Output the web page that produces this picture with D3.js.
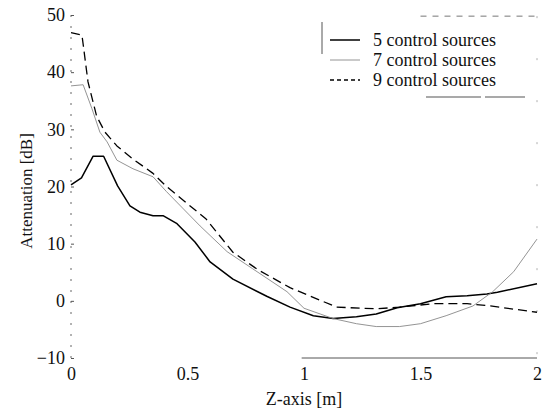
<!DOCTYPE html>
<html>
<head>
<meta charset="utf-8">
<script src="https://cdn.jsdelivr.net/npm/d3@7"></script>
<style>
  body { margin: 0; background: #fff; }
</style>
</head>
<body>
<svg id="chart" width="550" height="410"></svg>
<script>
// series: 5, 7 and 9 control sources
const z5 = [0, 0.045, 0.095, 0.14, 0.2, 0.253, 0.296, 0.352, 0.395, 0.455, 0.532, 0.597, 0.695, 0.84, 0.94, 1.04, 1.125, 1.225, 1.31, 1.40, 1.5, 1.61, 1.70, 1.785, 1.83, 2];
const v5 = [20.3, 21.5, 25.3, 25.3, 20.1, 16.6, 15.5, 14.9, 14.9, 13.5, 10.3, 6.8, 3.8, 0.8, -1.1, -2.6, -3.1, -2.8, -2.3, -1.2, -0.5, 0.7, 0.9, 1.2, 1.5, 3.0];

const z7 = [0, 0.052, 0.09, 0.124, 0.155, 0.197, 0.266, 0.352, 0.41, 0.554, 0.67, 0.78, 0.927, 1.0, 1.125, 1.225, 1.31, 1.41, 1.5, 1.61, 1.725, 1.81, 1.9, 2];
const v7 = [37.6, 37.8, 33.6, 29.5, 27.8, 24.6, 23.1, 21.7, 19.1, 13.1, 8.6, 5.6, 1.6, -1.3, -3.1, -4.0, -4.5, -4.5, -4.0, -2.6, -0.9, 1.6, 5.1, 10.8];

const z9 = [0, 0.047, 0.073, 0.11, 0.146, 0.197, 0.266, 0.352, 0.41, 0.58, 0.695, 0.8, 0.94, 1.14, 1.31, 1.41, 1.555, 1.70, 1.80, 2];
const v9 = [46.9, 46.5, 38.3, 32.3, 29.5, 27.1, 24.8, 22.3, 20.0, 14.3, 8.5, 5.5, 2.3, -1.1, -1.4, -1.1, -0.5, -0.5, -0.9, -2.0];

const seriesNames = ["5 control sources", "7 control sources", "9 control sources"];
const xTicks = [0, 0.5, 1, 1.5, 2];
const yTicks = [-10, 0, 10, 20, 30, 40, 50];

const FONT = "Liberation Serif";

const svg = d3.select("#chart");

const x = d3.scaleLinear().domain([0, 2]).range([71, 537]);
const y = d3.scaleLinear().domain([-10, 50]).range([358, 15]);

// line styles for each series
const styles = [
    {stroke: "#000", width: 1.5, dash: null},
    {stroke: "#888", width: 0.9, dash: null},
    {stroke: "#000", width: 1.3, dash: "9,5"}
];

// Left axis (broken dashed line like the scan)
svg.append("line")
    .attr("x1", x(0)).attr("x2", x(0))
    .attr("y1", y(50)).attr("y2", y(-10))
    .attr("stroke", "#666")
    .attr("stroke-width", 1)
    .attr("stroke-dasharray", "2,9");

const yAxis = d3.axisLeft(y).tickValues(yTicks).tickSize(3).tickPadding(6);
const gy = svg.append("g").attr("transform", `translate(${x(0) + 3},0)`).call(yAxis);
gy.select(".domain").remove();
gy.selectAll(".tick line").attr("stroke", "#555");
gy.selectAll("text").style("font-size", "18px").style("font-family", FONT).attr("fill", "#111");

// bottom axis: only the right part survived in the scan
svg.append("line")
    .attr("x1", x(0.99)).attr("x2", x(2))
    .attr("y1", y(-10)).attr("y2", y(-10))
    .attr("stroke", "#555")
    .attr("stroke-width", 1);

const xAxis = d3.axisBottom(x).tickValues(xTicks).tickSize(0).tickPadding(9)
    .tickFormat(d => d3.format("")(d));
const gx = svg.append("g").attr("transform", `translate(0,${y(-10)})`).call(xAxis);
gx.select(".domain").remove();
gx.selectAll("text").style("font-size", "18px").style("font-family", FONT).attr("fill", "#111");

// faint top and right frame pieces
svg.append("line")
    .attr("x1", x(1.5)).attr("x2", x(2))
    .attr("y1", y(49.8)).attr("y2", y(49.8))
    .attr("stroke", "#777").attr("stroke-width", 1)
    .attr("stroke-dasharray", "6,6");
svg.append("line")
    .attr("x1", x(2)).attr("x2", x(2))
    .attr("y1", y(49.8)).attr("y2", y(-10))
    .attr("stroke", "#999").attr("stroke-width", 0.8)
    .attr("stroke-dasharray", "2,40");

// curves
const line = d3.line()
    .x(d => x(d[0]))
    .y(d => y(d[1]));

const allSeries = [
    d3.zip(z5, v5),
    d3.zip(z7, v7),
    d3.zip(z9, v9)
];

allSeries.forEach((pts, i) => {
    svg.append("path")
        .datum(pts)
        .attr("d", line)
        .attr("fill", "none")
        .attr("stroke", styles[i].stroke)
        .attr("stroke-width", styles[i].width)
        .attr("stroke-dasharray", styles[i].dash)
        .attr("stroke-linejoin", "round");
});

// legend
const legend = svg.append("g").attr("transform", "translate(322,22)");
legend.append("line")
    .attr("x1", 0).attr("x2", 0).attr("y1", 0).attr("y2", 32)
    .attr("stroke", "#555").attr("stroke-width", 1);
legend.append("line")
    .attr("x1", 104).attr("x2", 205).attr("y1", 75).attr("y2", 75)
    .attr("stroke", "#555").attr("stroke-width", 1.1)
    .attr("stroke-dasharray", "55,4,40");

seriesNames.forEach((name, i) => {
    const row = legend.append("g").attr("transform", `translate(0,${18 + i * 20})`);
    row.append("line")
        .attr("x1", 8).attr("x2", 38).attr("y1", 0).attr("y2", 0)
        .attr("stroke", styles[i].stroke)
        .attr("stroke-width", styles[i].width)
        .attr("stroke-dasharray", i === 2 ? "4,3" : null);
    row.append("text")
        .attr("x", 51).attr("y", 6)
        .style("font-family", FONT)
        .style("font-size", "18px")
        .attr("fill", "#111")
        .text(name);
});

// axis titles
svg.append("text")
    .attr("x", x(1)).attr("y", 405)
    .attr("text-anchor", "middle")
    .style("font-family", FONT)
    .style("font-size", "18px")
    .attr("fill", "#111")
    .text("Z-axis [m]");

svg.append("text")
    .attr("transform", "translate(32,191) rotate(-90)")
    .attr("text-anchor", "middle")
    .style("font-family", FONT)
    .style("font-size", "17px")
    .attr("fill", "#111")
    .text("Attenuation [dB]");
</script>
</body>
</html>
